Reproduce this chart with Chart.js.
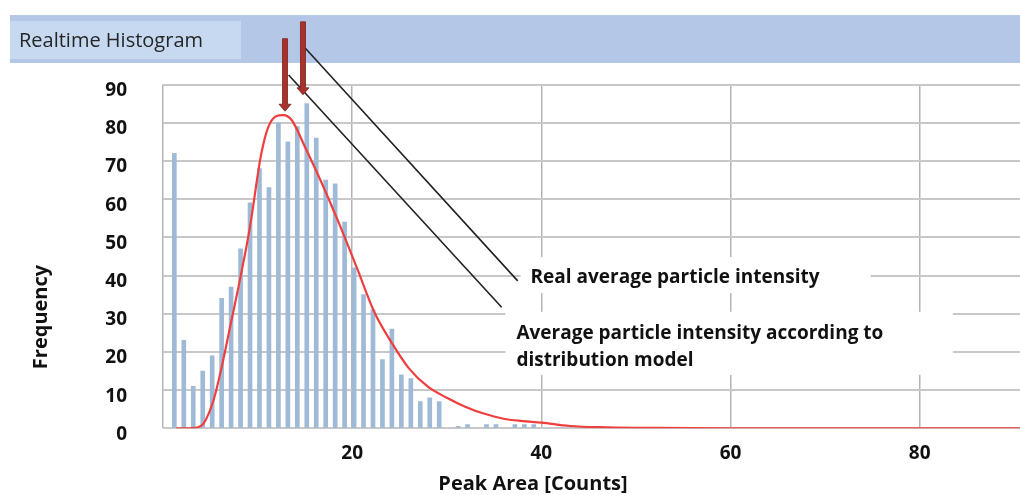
<!DOCTYPE html>
<html>
<head>
<meta charset="utf-8">
<script src="https://cdn.jsdelivr.net/npm/chart.js@4.4.1/dist/chart.umd.min.js"></script>
<style>
  html, body { margin: 0; padding: 0; background: #fff; }
</style>
</head>
<body>
<canvas id="histo" width="1020" height="495"></canvas>
<script>
// histogram bins (bin centres, Peak Area [Counts]) and counts
const binCenters = [1.2, 2.2, 3.2, 4.2, 5.2, 6.2, 7.2, 8.2, 9.2, 10.2,
  11.2, 12.2, 13.2, 14.2, 15.2, 16.2, 17.2, 18.2, 19.2, 20.2,
  21.2, 22.2, 23.2, 24.2, 25.2, 26.2, 27.2, 28.2, 29.2,
  31.2, 32.2, 34.2, 35.2, 37.2, 38.2, 39.2];
const frequency = [72, 23, 11, 15, 19, 34, 37, 47, 59, 68,
  63, 80, 75, 79, 85, 76, 65, 64, 54, 42,
  35, 31, 18, 26, 14, 13, 7, 8, 7,
  0.5, 1, 1, 1, 1, 1, 1];

// distribution model curve
const fitArea = [1.4, 2.5, 3.6, 4.3, 5.35, 6.2, 7.1, 8.2, 9.2, 10.4, 11.3, 12.7, 13.6, 15,
  16.8, 18.6, 20.5, 22.4, 24.2, 26, 28, 30, 32, 34, 36, 38, 40, 43, 47, 52, 60, 75, 91];
const fitFreq = [0, 0, 0.2, 1.3, 7.4, 16, 26.6, 39.7, 52.8, 72, 79.8, 82, 80.7, 73.7,
  64.1, 53.7, 42, 30.1, 22.3, 15.7, 10.9, 8, 5.6, 3.8, 2.5, 1.9, 1.5, 0.6, 0.26, 0.1, 0, 0, 0];

const xTicks = [20, 40, 60, 80];
const yTicks = [0, 10, 20, 30, 40, 50, 60, 70, 80, 90];

// averages marked with arrows
const modelAvg = 12.9;
const realAvg = 14.8;

const bold = { family: 'Open Sans', size: 19, weight: 'bold' };

const overlay = {
  id: 'overlay',
  beforeDraw(chart) {
    const c = chart.ctx;
    c.save();
    c.fillStyle = '#b4c7e7';
    c.fillRect(10, 15, 1010, 48);
    c.fillStyle = '#c6d9f1';
    c.fillRect(10, 21, 231, 38);
    c.fillStyle = '#262626';
    c.font = '20px "Open Sans"';
    c.textBaseline = 'alphabetic';
    c.fillText('Realtime Histogram', 19, 47);
    c.restore();
  },
  afterDatasetsDraw(chart) {
    const c = chart.ctx;
    const sx = chart.scales.x, sy = chart.scales.y;
    const px = v => sx.getPixelForValue(v);
    const py = v => sy.getPixelForValue(v);
    c.save();

    // label boxes
    c.fillStyle = '#fff';
    c.fillRect(px(37.8), py(44.8), px(74.8) - px(37.8), py(35.4) - py(44.8));
    c.fillRect(px(36.2), py(30.5), px(83.5) - px(36.2), py(14) - py(30.5));

    c.fillStyle = '#111';
    c.font = 'bold 19px "Open Sans"';
    c.textBaseline = 'alphabetic';
    c.fillText('Real average particle intensity', px(37.8) + 10, py(44.8) + 26);
    c.fillText('Average particle intensity according to', px(36.2) + 11, py(30.5) + 27);
    c.fillText('distribution model', px(36.2) + 11, py(30.5) + 54);

    // leader lines
    c.strokeStyle = '#222';
    c.lineWidth = 1.6;
    c.beginPath();
    c.moveTo(px(15.05), py(99.5));
    c.lineTo(px(37.5), py(38.6));
    c.moveTo(px(13.28), py(92.5));
    c.lineTo(px(35.8), py(31.7));
    c.stroke();

    // arrows
    const arrow = (x, top, tip) => {
      const cx = px(x), yt = py(top), yp = py(tip);
      c.beginPath();
      c.moveTo(cx - 2.5, yt);
      c.lineTo(cx + 2.5, yt);
      c.lineTo(cx + 2.5, yp - 7);
      c.lineTo(cx + 6, yp - 7);
      c.lineTo(cx, yp);
      c.lineTo(cx - 6, yp - 7);
      c.lineTo(cx - 2.5, yp - 7);
      c.closePath();
      c.fillStyle = '#a8322b';
      c.fill();
      c.strokeStyle = '#7d211c';
      c.lineWidth = 0.8;
      c.stroke();
    };
    arrow(modelAvg, 102, 83);
    arrow(realAvg, 106.4, 87.3);
    c.restore();
  },
  afterDraw(chart) {
    const c = chart.ctx;
    c.save();
    c.fillStyle = '#111';
    c.font = 'bold 20px "Open Sans"';
    c.textAlign = 'center';
    c.textBaseline = 'middle';
    c.fillText('Peak Area [Counts]', 533, 484);
    c.translate(41, 317);
    c.rotate(-Math.PI / 2);
    c.fillText('Frequency', 0, 0);
    c.restore();
  }
};

const ctx = document.getElementById('histo').getContext('2d');
const histo = new Chart(ctx, {
  data: {
    datasets: [{
      type: 'line',
      data: fitArea.map((x, i) => ({ x: x, y: fitFreq[i] })),
      borderColor: '#ef3e3e',
      borderWidth: 2.2,
      pointRadius: 0,
      cubicInterpolationMode: 'monotone',
      order: 0
    }, {
      type: 'bar',
      data: binCenters.map((x, i) => ({ x: x, y: frequency[i] })),
      backgroundColor: '#9fbad6',
      barThickness: 4,
      order: 1
    }]
  },
  options: {
    responsive: false,
    animation: false,
    layout: { padding: { top: 84.5, left: 0, right: 0, bottom: 0 } },
    scales: {
      x: {
        type: 'linear',
        min: 0,
        max: 90.6,
        offset: false,
        afterFit: s => { s.height = 66.7; },
        afterBuildTicks: s => { s.ticks = [0].concat(xTicks).map(v => ({ value: v })); },
        ticks: {
          callback: v => (v === 0 ? '' : v),
          font: bold,
          color: '#111',
          padding: 14,
          maxRotation: 0
        },
        grid: { color: '#b4b4b4', lineWidth: 1.5, drawTicks: false, offset: false },
        border: { display: false }
      },
      y: {
        min: 0,
        max: 90,
        afterFit: s => { s.width = 163; },
        afterBuildTicks: s => { s.ticks = yTicks.map(v => ({ value: v })); },
        ticks: {
          font: bold,
          color: '#111',
          padding: 36,
          labelOffset: 6
        },
        grid: { color: '#c8c8c8', lineWidth: 2, drawTicks: false },
        border: { display: false }
      }
    },
    plugins: {
      legend: { display: false },
      tooltip: { enabled: false }
    }
  },
  plugins: [overlay]
});
</script>
</body>
</html>
